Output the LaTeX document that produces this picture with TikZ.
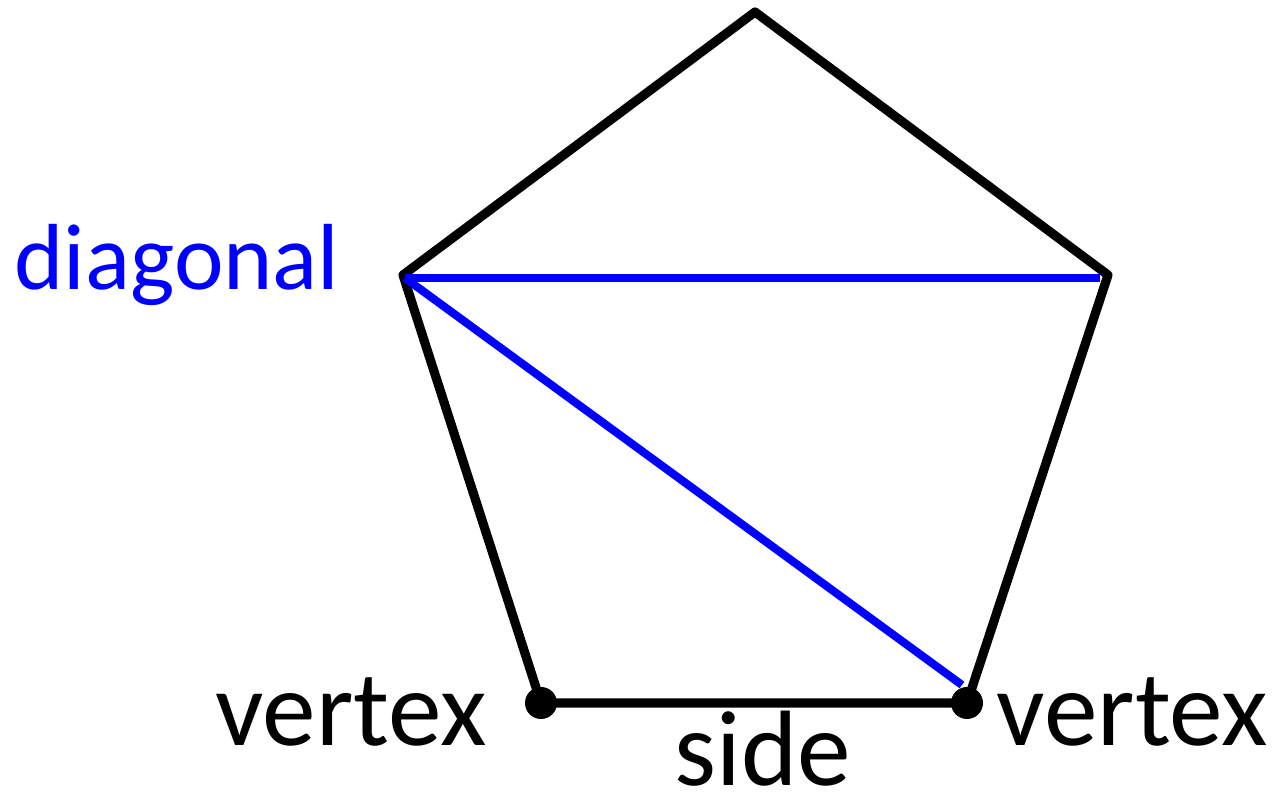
\documentclass[tikz,border=0pt]{standalone}
\usepackage{fontspec}
\setmainfont{Carlito}
\usepackage{tikz}
\usepackage{xcolor}

\begin{document}
\begin{tikzpicture}[x=0.01cm, y=-0.01cm]
    \useasboundingbox (0,0) rectangle (1272,801);
    % Vertices
    \coordinate (top) at (755,12);
    \coordinate (left) at (403,275);
    \coordinate (right) at (1108,275);
    \coordinate (botleft) at (541,703);
    \coordinate (botright) at (967,703);
    
    % Sides
    \draw[line width=2.6pt, line join=round] (top) -- (right) -- (botright) -- (botleft) -- (left) -- cycle;
    
    % Diagonals
    \draw[blue, line width=2.3pt] (left) ++(2,3) coordinate (dstart) -- (1100,278) coordinate (dend);
    \draw[blue, line width=2.3pt] (dstart) -- (962,685) coordinate (dend2);
    
    % Dots
    \fill (botleft) circle (16);
    \fill (botright) circle (16);
    
    % Labels
    \node[blue, font=\fontsize{26.7}{32}\selectfont, anchor=base west, inner sep=0pt] (diaglabel) at (14,290) {diagonal};
    \node[font=\fontsize{30.5}{36}\selectfont, anchor=base east, inner sep=0pt] (vleft) at (487,746) {vertex};
    \node[font=\fontsize{30.5}{36}\selectfont, anchor=base west, inner sep=0pt] (vright) at (996,746) {vertex};
    \node[font=\fontsize{30.5}{36}\selectfont, anchor=base, inner sep=0pt] (sidelabel) at (763,786) {side};
\end{tikzpicture}
\end{document}
